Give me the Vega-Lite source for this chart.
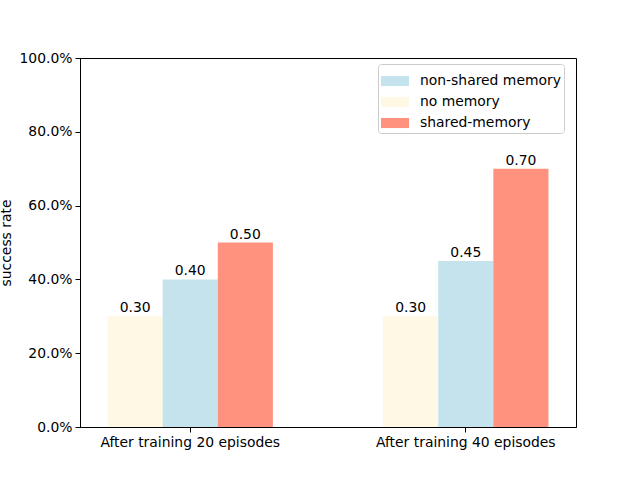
{
  "$schema": "https://vega.github.io/schema/vega-lite/v6.json",
  "width": 496,
  "height": 369,
  "autosize": {"type": "none"},
  "padding": {"left": 80, "top": 58, "right": 64, "bottom": 53},
  "background": "white",
  "config": {
    "font": "DejaVu Sans",
    "view": {"stroke": "black", "strokeWidth": 1},
    "axis": {
      "labelFont": "DejaVu Sans",
      "labelFontSize": 13.9,
      "labelColor": "black",
      "titleFont": "DejaVu Sans",
      "titleFontSize": 13.9,
      "titleFontWeight": "normal",
      "titleColor": "black",
      "domainColor": "black",
      "tickColor": "black",
      "tickSize": 5,
      "labelPadding": 3,
      "grid": false
    }
  },
  "data": {
    "values": [
      {"stage": "After training 20 episodes", "method": "no memory", "rate": 0.30},
      {"stage": "After training 20 episodes", "method": "non-shared memory", "rate": 0.40},
      {"stage": "After training 20 episodes", "method": "shared-memory", "rate": 0.50},
      {"stage": "After training 40 episodes", "method": "no memory", "rate": 0.30},
      {"stage": "After training 40 episodes", "method": "non-shared memory", "rate": 0.45},
      {"stage": "After training 40 episodes", "method": "shared-memory", "rate": 0.70}
    ]
  },
  "encoding": {
    "x": {
      "field": "stage",
      "type": "nominal",
      "scale": {"paddingInner": 0.4, "paddingOuter": 0.1},
      "axis": {"title": null, "labelAngle": 0}
    },
    "xOffset": {
      "field": "method",
      "type": "nominal",
      "sort": ["no memory", "non-shared memory", "shared-memory"]
    },
    "y": {
      "field": "rate",
      "type": "quantitative",
      "scale": {"domain": [0, 1], "nice": false},
      "axis": {"title": "success rate", "format": ".1%", "values": [0, 0.2, 0.4, 0.6, 0.8, 1.0], "titlePadding": 6}
    }
  },
  "layer": [
    {
      "mark": {"type": "bar"},
      "encoding": {
        "color": {
          "field": "method",
          "type": "nominal",
          "scale": {
            "domain": ["non-shared memory", "no memory", "shared-memory"],
            "range": ["#C5E3ED", "#FFF8E5", "#FF927E"]
          },
          "legend": {
            "title": null,
            "orient": "none",
            "legendX": 298,
            "legendY": 6,
            "symbolType": "M-1,-0.36H1V0.36H-1Z",
            "symbolSize": 784,
            "symbolStrokeWidth": 0,
            "symbolOpacity": 1,
            "labelFont": "DejaVu Sans",
            "labelFontSize": 13.9,
            "labelColor": "black",
            "labelOffset": 11,
            "rowPadding": 0,
            "padding": 3,
            "strokeColor": "#cccccc",
            "fillColor": "white",
            "cornerRadius": 3
          }
        }
      }
    },
    {
      "mark": {"type": "text", "baseline": "bottom", "dy": -1, "fontSize": 13.9, "color": "black"},
      "encoding": {
        "text": {"field": "rate", "type": "quantitative", "format": ".2f"}
      }
    }
  ]
}
